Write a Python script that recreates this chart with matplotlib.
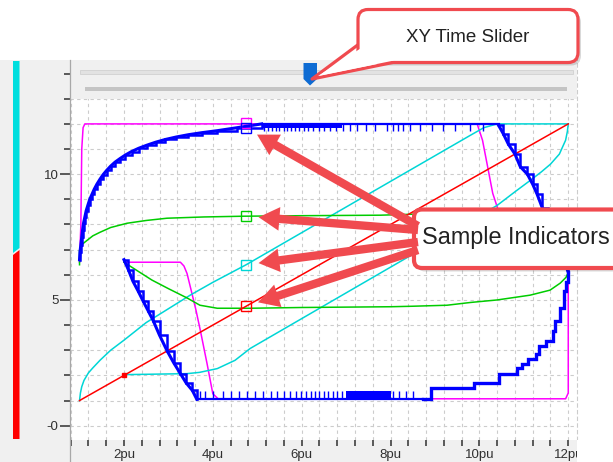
import matplotlib.pyplot as plt
from matplotlib.patches import Rectangle, Polygon, FancyBboxPatch

plt.rcParams['font.family'] = ['Liberation Sans', 'DejaVu Sans']

# ---- data (x in pu) ----
red_x = [1.0, 12.0]
red_y = [1.0, 12.0]
red_dot_x = [2.0]
red_dot_y = [2.0]

cyan_up_x = [1.0, 1.02, 1.05, 1.1, 1.2, 1.3, 1.46, 1.7, 2.0, 2.5, 3.0, 3.5, 4.0, 4.75, 9.8, 10.1, 10.4, 12.0]
cyan_up_y = [1.0, 1.3, 1.55, 1.8, 2.1, 2.3, 2.6, 3.0, 3.4, 4.1, 4.65, 5.2, 5.7, 6.4, 11.55, 11.85, 12.0, 12.0]
cyan_dn_x = [2.0, 3.42, 3.7, 4.1, 4.5, 4.84, 10.4, 10.8, 11.15, 11.4, 11.6, 11.8, 11.94, 11.98, 12.0]
cyan_dn_y = [2.03, 2.07, 2.12, 2.27, 2.6, 3.07, 8.76, 9.3, 9.76, 10.1, 10.4, 10.8, 11.35, 11.7, 12.0]

green_up_x = [1.0, 1.0, 1.05, 1.17, 1.3, 1.46, 1.7, 2.07, 2.5, 2.97, 3.8, 4.7, 6.0, 7.77, 8.7, 10.0, 12.0, 12.0]
green_up_y = [6.4, 6.97, 7.2, 7.37, 7.55, 7.69, 7.88, 8.05, 8.16, 8.25, 8.3, 8.33, 8.35, 8.37, 8.42, 8.46, 8.5, 6.1]
green_dn_x = [2.0, 2.63, 3.0, 3.42, 3.71, 4.1, 4.84, 6.0, 8.0, 8.5, 9.27, 9.8, 10.4, 11.14, 11.59, 11.82, 11.95, 12.0]
green_dn_y = [6.5, 5.79, 5.45, 5.08, 4.79, 4.67, 4.67, 4.7, 4.73, 4.75, 4.79, 4.9, 5.0, 5.19, 5.39, 5.67, 5.9, 6.1]

mag_up_x = [1.0, 1.03, 1.05, 1.08, 1.12, 9.95, 10.07, 10.2, 10.3, 10.4, 10.55, 10.7, 11.9, 12.0]
mag_up_y = [6.5, 8.0, 11.0, 11.85, 12.0, 12.0, 11.35, 10.16, 9.24, 8.7, 7.8, 6.7, 6.6, 6.1]
mag_dn_x = [2.0, 3.27, 3.35, 3.42, 3.53, 3.62, 3.72, 3.87, 4.0, 4.12, 11.94, 12.0, 12.0]
mag_dn_y = [6.5, 6.5, 6.35, 6.05, 5.26, 4.6, 3.78, 2.47, 1.27, 1.07, 1.07, 1.3, 6.1]

# blue (quantised) trace: staircase pieces + flat parts
blue_up_a_x = [1.0, 1.01, 1.03, 1.05, 1.07, 1.09, 1.12, 1.15, 1.19, 1.23, 1.28, 1.33, 1.39, 1.46, 1.53, 1.61,
               1.70, 1.80, 1.91, 2.03, 2.17, 2.33, 2.51, 2.71, 2.93, 3.18, 3.45, 3.75, 4.10, 4.55, 5.10]
blue_up_a_y = [6.6, 6.9, 7.2, 7.5, 7.8, 8.05, 8.3, 8.55, 8.78, 9.0, 9.2, 9.4, 9.6, 9.8, 9.98, 10.15,
               10.32, 10.48, 10.62, 10.76, 10.9, 11.03, 11.15, 11.27, 11.38, 11.48, 11.57, 11.65, 11.73, 11.85, 12.0]
blue_up_b_x = [10.43, 10.54, 10.65, 10.8, 10.92, 11.08, 11.2, 11.3, 11.42, 11.55, 11.7, 11.85, 12.0]
blue_up_b_y = [11.95, 11.6, 11.2, 10.8, 10.3, 10.0, 9.6, 9.2, 8.64, 8.1, 7.5, 6.8, 6.1]
blue_lo_a_x = [2.0, 2.1, 2.2, 2.32, 2.43, 2.55, 2.66, 2.8, 2.97, 3.12, 3.27, 3.4, 3.54, 3.64]
blue_lo_a_y = [6.6, 6.2, 5.75, 5.35, 4.96, 4.55, 4.17, 3.6, 2.98, 2.5, 2.07, 1.7, 1.4, 1.05]
blue_lo_b_x = [8.74, 8.9, 9.87, 10.43, 10.7, 10.85, 10.97, 11.1, 11.27, 11.34, 11.5, 11.65, 11.7, 11.82, 11.9, 11.96, 12.0]
blue_lo_b_y = [1.05, 1.5, 1.7, 2.07, 2.07, 2.3, 2.47, 2.66, 2.86, 3.18, 3.38, 3.77, 4.17, 4.68, 5.36, 5.7, 6.1]
blue_top_spikes = [5.15, 5.24, 5.33, 5.42, 5.5, 5.6, 5.68, 5.77, 5.86, 5.95, 6.05, 6.15, 6.26, 6.38, 6.5, 6.63,
                   6.77, 6.92, 7.08, 7.25, 7.45, 7.65, 7.93, 8.06, 8.17, 8.28, 8.44, 8.66, 8.93, 9.18, 9.45, 9.79, 10.08]
blue_bot_spikes = [3.72, 3.83, 4.01, 4.22, 4.42, 4.6, 4.77, 4.95, 5.12, 5.3, 5.45, 5.6, 5.74, 5.87, 5.98, 6.09,
                   6.2, 6.3, 6.4, 6.5, 6.6, 6.7, 6.8, 6.9, 8.05, 8.2, 8.35, 8.5]
blue_band_x = [7.0, 8.0]
blue_band_y = [1.05, 1.38]
blue_topband_x = [5.1, 6.9]
blue_topband_y = [11.82, 12.0]

# sample indicators at the slider time
sample_x = 4.75
sample_y = [12.05, 11.82, 8.33, 6.4, 4.75]

x_major = [2, 4, 6, 8, 10, 12]
x_labels = ['2pu', '4pu', '6pu', '8pu', '10pu', '12pu']
y_major = [0, 5, 10]
y_labels = ['-0', '5', '10']

MAG, BLUE, GREEN, CYAN, RED = '#ff00ff', '#0000ff', '#00cc00', '#00d6d6', '#ff0000'
CALL = '#f04a4f'
PANEL = '#f0f0f0'

W, H = 613, 462
fig = plt.figure(figsize=(W / 100, H / 100), dpi=100)

# background layer in pixel coords
bg = fig.add_axes([0, 0, 1, 1], zorder=0)
bg.set_xlim(0, W); bg.set_ylim(H, 0); bg.axis('off')
bg.add_patch(Rectangle((0, 60), 69.5, H - 60, fc=PANEL, ec='none'))
bg.add_patch(Rectangle((69.5, 439.5), 507.5, 30, fc=PANEL, ec='none'))
bg.add_patch(Polygon([(13, 61), (19.5, 61), (19.5, 248), (13, 253)], fc='#00dede', ec='none'))
bg.add_patch(Polygon([(13, 255), (19.5, 250), (19.5, 439), (13, 439)], fc='#ff0000', ec='none'))

# main plot
x0, xs = 35.1, 44.43      # pixel of x=0, px per unit
y0, ys = 425.7, 25.15     # pixel of y=0, px per unit
L, R, T, B = 69.5, 577, 60, 439.5
ax = fig.add_axes([L / W, (H - B) / H, (R - L) / W, (B - T) / H], zorder=1)
ax.set_xlim((L - x0) / xs, (R - x0) / xs)
ax.set_ylim((y0 - B) / ys, (y0 - T) / ys)

ax.set_xticks(x_major)
ax.set_xticklabels(x_labels)
ax.set_xticks([0.8 + 0.4 * i for i in range(29)], minor=True)
ax.set_yticks(y_major)
ax.set_yticklabels(y_labels)
ax.set_yticks(list(range(0, 15)), minor=True)
ax.tick_params(axis='both', which='both', colors='#303030', labelsize=9.5, width=1.1)
ax.tick_params(axis='x', which='both', length=4, pad=3)
ax.tick_params(axis='y', which='major', length=7, pad=1)
ax.tick_params(axis='y', which='minor', length=4)
ax.grid(True, which='both', color='#cccccc', linestyle=(0, (3, 3)), linewidth=0.8)
ax.set_axisbelow(True)
for s in ['left', 'bottom', 'top']:
    ax.spines[s].set_visible(False)
ax.spines['right'].set_color('#cccccc')
ax.spines['right'].set_linestyle((0, (3, 3)))

ax.plot(mag_up_x, mag_up_y, color=MAG, lw=1.1)
ax.plot(mag_dn_x, mag_dn_y, color=MAG, lw=1.1)
ax.plot(cyan_up_x, cyan_up_y, color=CYAN, lw=1.1)
ax.plot(cyan_dn_x, cyan_dn_y, color=CYAN, lw=1.1)
ax.plot(green_up_x, green_up_y, color=GREEN, lw=1.1)
ax.plot(green_dn_x, green_dn_y, color=GREEN, lw=1.1)
ax.plot(red_x, red_y, color=RED, lw=1.1)
ax.plot(red_dot_x, red_dot_y, 's', color=RED, ms=2.5)

# blue staircase: thick band through the points plus notched steps
for bx, by in [(blue_up_a_x, blue_up_a_y), (blue_up_b_x, blue_up_b_y), (blue_lo_a_x, blue_lo_a_y)]:
    ax.plot(bx, by, color=BLUE, lw=2.2)
    ax.plot(bx, by, color=BLUE, lw=1.8, drawstyle='steps-post', solid_joinstyle='miter')
ax.plot(blue_lo_b_x, blue_lo_b_y, color=BLUE, lw=2.4, drawstyle='steps-post', solid_joinstyle='miter')
ax.plot([blue_up_a_x[-1], blue_up_b_x[0]], [blue_up_a_y[-1], blue_up_a_y[-1]], color=BLUE, lw=1.6)
ax.plot([blue_lo_a_x[-1], blue_lo_b_x[0]], [blue_lo_a_y[-1], blue_lo_a_y[-1]], color=BLUE, lw=1.6)
ax.vlines(blue_top_spikes, 11.72, 12.0, color=BLUE, lw=1.0)
ax.vlines(blue_bot_spikes, 1.05, 1.36, color=BLUE, lw=1.0)
ax.fill_between(blue_band_x, blue_band_y[0], blue_band_y[1], color=BLUE, lw=0)
ax.fill_between(blue_topband_x, blue_topband_y[0], blue_topband_y[1], color=BLUE, lw=0)

for yv, c in zip(sample_y, [MAG, BLUE, GREEN, CYAN, RED]):
    ax.plot([sample_x], [yv], 's', ms=6.5, mfc='none', mec=c, mew=1.0, zorder=5)

# foreground layer: slider panel, callouts
fg = fig.add_axes([0, 0, 1, 1], zorder=2)
fg.set_xlim(0, W); fg.set_ylim(H, 0); fg.axis('off')
fg.add_patch(Rectangle((69.5, 60), 507.5, 38.5, fc=PANEL, ec='none'))
fg.add_patch(Rectangle((80, 70), 493, 4, fc='#e2e2e2', ec='#d4d4d4', lw=0.7))
fg.add_patch(Rectangle((85, 87), 482, 3.5, fc='#c4c4c4', ec='none'))
fg.add_patch(Polygon([(303.5, 63), (317, 63), (317, 79), (310, 85.5), (303.5, 79)], fc='#0d6bd3', ec='none'))
fg.plot([69.5, 69.5], [60, H], color='#a8a8a8', lw=0.9)
fg.add_patch(Rectangle((577, 439.5), 40, 30, fc='white', ec='none'))

# callout 1: XY Time Slider
fg.add_patch(FancyBboxPatch((361, 12.5), 220, 53, boxstyle='round,pad=0,rounding_size=10',
                            fc='black', ec='none', alpha=0.15))
fg.add_patch(Polygon([(359, 44), (400, 61), (312, 79)], fc='white', ec=CALL, lw=2.3, joinstyle='round'))
fg.add_patch(FancyBboxPatch((358, 9.5), 220, 53, boxstyle='round,pad=0,rounding_size=10',
                            fc='white', ec=CALL, lw=2.3))
fg.add_patch(Polygon([(362, 47.5), (394, 60.5), (318, 76)], fc='white', ec='none'))
fg.text(468, 41.5, 'XY Time Slider', fontsize=13.5, ha='center', va='baseline', color='#222222')

# callout 2: Sample Indicators
tails = [(418, 226), (418, 230), (418, 242), (418, 250)]
for (tx, ty), yv in zip(tails, sample_y[1:]):
    fg.annotate('', xy=(sample_x, yv), xycoords=ax.transData, xytext=(tx, ty), textcoords='data',
                arrowprops=dict(arrowstyle='simple,head_length=0.75,head_width=0.85,tail_width=0.3',
                                fc=CALL, ec='none', shrinkA=0, shrinkB=9, mutation_scale=20))
fg.add_patch(FancyBboxPatch((417, 213), 300, 58.5, boxstyle='round,pad=0,rounding_size=8',
                            fc='black', ec='none', alpha=0.15))
fg.add_patch(FancyBboxPatch((414, 209.5), 300, 58.5, boxstyle='round,pad=0,rounding_size=8',
                            fc='white', ec=CALL, lw=3))
fg.text(422, 244, 'Sample Indicators', fontsize=16.8, ha='left', va='baseline', color='#222222')

fig.savefig('out.png', dpi=100)
